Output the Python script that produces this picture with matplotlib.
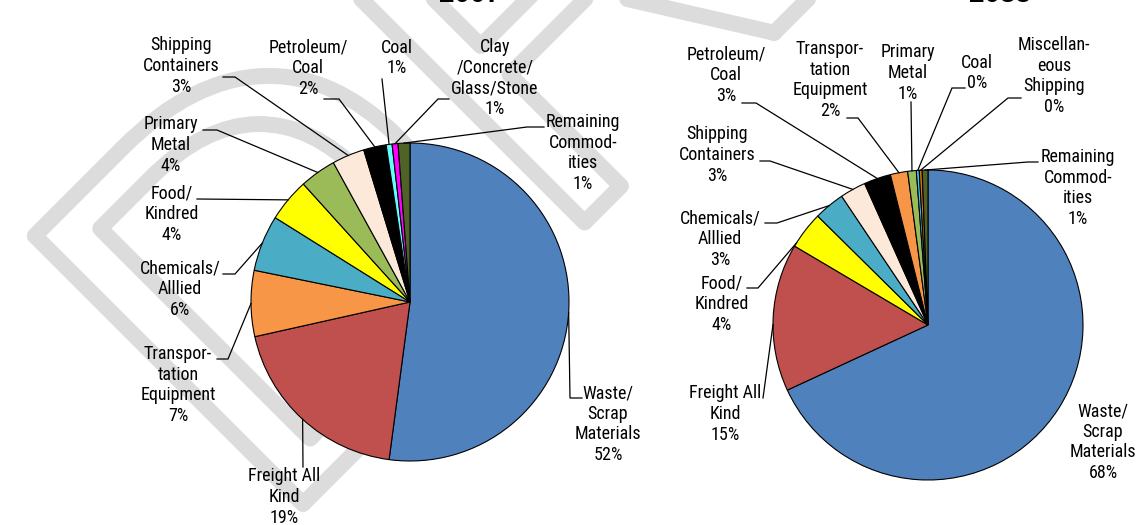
import os
import numpy as np
import matplotlib
matplotlib.use('Agg')
import matplotlib.pyplot as plt
import matplotlib.patheffects as pe
from matplotlib import font_manager

W, H = 1136, 525

# --- data -----------------------------------------------------------------
labels_2007 = ['Waste/\nScrap\nMaterials', 'Freight All\nKind',
               'Transpor-\ntation\nEquipment', 'Chemicals/\nAlllied',
               'Food/\nKindred', 'Primary\nMetal', 'Shipping\nContainers',
               'Petroleum/\nCoal', 'Coal', 'Clay\n/Concrete/\nGlass/Stone',
               'Remaining\nCommod-\nities']
values_2007 = [52.1, 19.4, 6.7, 5.7, 4.4, 3.7, 3.3, 2.3, 0.6, 0.6, 1.2]
colors_2007 = ['#4F81BD', '#C0504D', '#F79646', '#4BACC6', '#FFFF00',
               '#9BBB59', '#FDE9D9', '#000000', '#66FFFF', '#FF00FF',
               '#4F6228']

labels_2035 = ['Waste/\nScrap\nMaterials', 'Freight All\nKind',
               'Food/\nKindred', 'Chemicals/\nAlllied', 'Shipping\nContainers',
               'Petroleum/\nCoal', 'Transpor-\ntation\nEquipment',
               'Primary\nMetal', 'Coal', 'Miscellan-\neous\nShipping',
               'Remaining\nCommod-\nities']
values_2035 = [68.1, 15.4, 3.9, 3.2, 2.7, 2.8, 1.8, 0.9, 0.3, 0.3, 0.6]
colors_2035 = ['#4F81BD', '#C0504D', '#FFFF00', '#4BACC6', '#FDE9D9',
               '#000000', '#F79646', '#9BBB59', '#33CCFF', '#E46C0A',
               '#4F6228']

# --- layout (image pixels, y measured from the top) ---------------------
pie_2007 = dict(center=(410, 302), radius=159, title='2007', title_x=470)
pie_2035 = dict(center=(928, 325), radius=155, title='2035', title_x=1000)

# label block centre, leader attach point, elbow point, position in slice
layout_2007 = [
    ((608, 424), (582, 398), (570, 398), 0.5),
    ((284, 497), (303, 467), None, 0.5),
    ((178, 385), (217, 359), (228, 359), 0.5),
    ((180, 289), (223, 274), (235, 274), 0.5),
    ((172, 214), (197, 199), None, 0.5),
    ((171, 145), (203, 130), (217, 130), 0.5),
    ((181, 66), (223, 77), (235, 77), 0.5),
    ((308, 68), (324, 99), (339, 99), 0.5),
    ((397, 58), (382, 79), None, 0.5),
    ((495, 78), (449, 99), (438, 99), 0.5),
    ((583, 153), (544, 127), (527, 127), 0.5),
]
layout_2035 = [
    ((1103, 442), None, None, 0.5),
    ((725, 414), (763, 398), None, 0.45),
    ((722, 304), (747, 288), (758, 288), 0.1),
    ((720, 239), (765, 223), (777, 223), 0.5),
    ((717, 155), (760, 161), (770, 161), 0.5),
    ((726, 75), (742, 103), (756, 103), 0.5),
    ((830, 80), (847, 118), (858, 118), 0.5),
    ((908, 73), (911, 102), None, 0.5),
    ((977, 73), (965, 88), (952, 88), 0.5),
    ((1054, 76), (1021, 98), (1008, 98), 0.5),
    ((1078, 188), (1038, 162), (1028, 162), 0.5),
]


def find_narrow_font():
    # look for a narrow sans face on disk (Arial Narrow look-alike)
    wanted = ['liberationsansnarrow-regular', 'arialn.ttf', 'arialnarrow',
              'robotocondensed-regular', 'roboto_condensed-regular',
              'notosans-condensed.ttf', 'notosans_condensed-regular',
              'dejavusanscondensed.ttf', 'opensans_condensed-regular',
              'opensans-condensed', 'opensans-condlight']
    files = [f.fname for f in font_manager.fontManager.ttflist]
    for w in wanted:
        for f in files:
            if w in os.path.basename(f).lower():
                return font_manager.FontProperties(fname=f, size=13)
    return font_manager.FontProperties(family='Liberation Sans', size=12,
                                       stretch='condensed')


def pick_font(names):
    for n in names:
        try:
            font_manager.findfont(n, fallback_to_default=False)
            return n
        except ValueError:
            pass
    return 'DejaVu Sans'


label_prop = find_narrow_font()
main_font = pick_font(['Liberation Sans', 'Arial', 'DejaVu Sans'])


def up(p):
    # image coords -> data coords (y up)
    return p[0], H - p[1]


def draw_pie(ax, values, colors, labels, spec, layout):
    cx, cy = up(spec['center'])
    r = spec['radius']
    ax.pie(values, colors=colors, center=(cx, cy), radius=r,
           startangle=90, counterclock=False,
           wedgeprops=dict(edgecolor='black', linewidth=0.8),
           frame=True)

    total = float(sum(values))
    cum = np.concatenate([[0], np.cumsum(values)])
    for i, (lab, v) in enumerate(zip(labels, values)):
        text_pos, attach, elbow, frac = layout[i]
        txt = '%s\n%.0f%%' % (lab, v)
        ax.text(*up(text_pos), txt, ha='center', va='center',
                multialignment='center', fontproperties=label_prop,
                linespacing=1.19, zorder=5)
        if attach is None:
            continue
        theta = np.deg2rad(360.0 * (cum[i] + frac * v) / total)
        ex = cx + r * np.sin(theta)
        ey = cy + r * np.cos(theta)
        pts = [up(attach)]
        if elbow is not None:
            pts.append(up(elbow))
        pts.append((ex, ey))
        xs, ys = zip(*pts)
        ax.plot(xs, ys, color='black', lw=0.9, zorder=4,
                solid_joinstyle='miter')

    ax.text(spec['title_x'], H - 2, spec['title'], ha='center',
            va='baseline', fontsize=20, fontweight='bold',
            family=main_font, zorder=5)


fig = plt.figure(figsize=(W / 100, H / 100), dpi=100)
ax = fig.add_axes([0, 0, 1, 1])

# watermark behind everything
ax.text(271, -11, 'DRAFT', rotation=45, rotation_mode='anchor',
        ha='left', va='baseline', fontsize=397, family=main_font,
        color=(1, 1, 1, 0), zorder=0,
        path_effects=[pe.Stroke(linewidth=11.5, foreground='#dcdcdc',
                                joinstyle='round', capstyle='round')])

draw_pie(ax, values_2007, colors_2007, labels_2007, pie_2007, layout_2007)
draw_pie(ax, values_2035, colors_2035, labels_2035, pie_2035, layout_2035)

ax.set_xlim(0, W)
ax.set_ylim(0, H)
ax.set_aspect('equal')
ax.axis('off')

fig.savefig('out.png', dpi=100)
plt.close(fig)
